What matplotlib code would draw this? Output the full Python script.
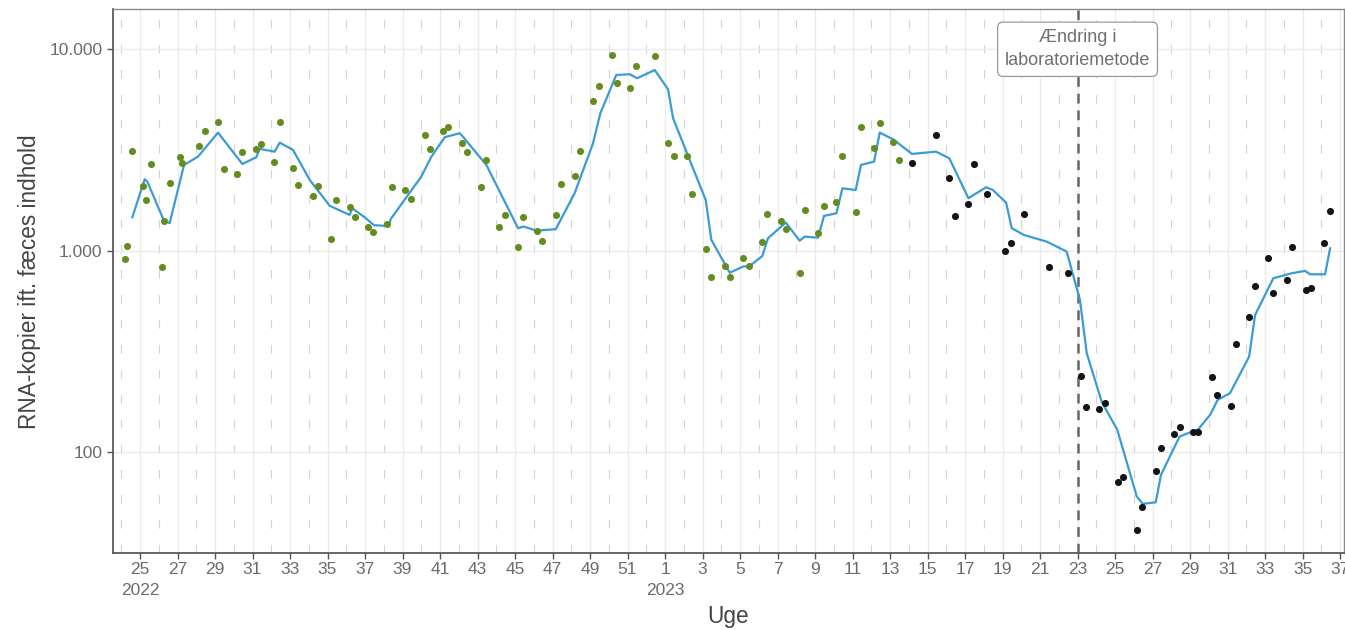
import numpy as np
import matplotlib.pyplot as plt
from matplotlib.ticker import FixedLocator, FixedFormatter, NullLocator

plt.rcParams['font.family'] = ['Liberation Sans', 'DejaVu Sans']
plt.rcParams['lines.scale_dashes'] = False

# x = uger efter uge 25 2022 (uge 1 2023 = 28)
green_t = [-0.82, -0.69, -0.41, 0.16, 0.30, 0.60, 1.17, 1.28, 1.60, 2.15, 2.26,
           3.15, 3.45, 4.16, 4.48, 5.16, 5.46, 6.17, 6.47, 7.16, 7.47, 8.18,
           8.44, 9.20, 9.47, 10.20, 10.44, 11.18, 11.45, 12.16, 12.44, 13.17,
           13.44, 14.15, 14.45, 15.18, 15.45, 16.14, 16.44, 17.17, 17.44, 18.17,
           18.44, 19.16, 19.45, 20.16, 20.40, 21.17, 21.46, 22.17, 22.47, 23.20,
           23.47, 24.16, 24.46, 25.17, 25.46, 26.15, 26.45, 27.47, 28.16, 28.46,
           29.16, 29.46, 30.17, 30.45, 31.18, 31.45, 32.16, 32.46, 33.17, 33.46,
           34.17, 34.45, 35.18, 35.45, 36.16, 36.46, 37.14, 37.44, 38.17, 38.45,
           39.15, 39.45, 40.16, 40.46]
green_v = [906, 1058, 3135, 2094, 1778, 2683, 826, 1409, 2167, 2906, 2716,
           3311, 3945, 4365, 2552, 2410, 3090, 3187, 3388, 2754, 4355, 2582,
           2110, 1857, 2094, 1146, 1790, 1652, 1463, 1310, 1241, 1360,
           2062, 2000, 1804, 3750, 3208, 3945, 4100, 3436, 3100, 2070,
           2818, 1310, 1503, 1038, 1469, 1256, 1119, 1497, 2134, 2347,
           3126, 5538, 6546, 9371, 6823, 6402, 8264, 9264, 3412, 2960,
           2951, 1918, 1018, 737, 838, 737, 916, 841, 1107, 1525,
           1409, 1276, 776, 1592, 1219, 1667, 1750, 2960, 1560, 4125,
           3221, 4317, 3460, 2810]

black_t = [41.17, 42.45, 43.16, 43.47, 44.18, 44.48, 45.16, 46.15, 46.47, 47.16,
           48.48, 49.48, 50.17, 50.44, 51.15, 51.47, 52.14, 52.44, 53.16, 53.44,
           54.17, 54.44, 55.16, 55.45, 56.18, 56.44, 57.16, 57.46, 58.17, 58.45,
           59.16, 59.47, 60.16, 60.44, 61.16, 61.46, 62.17, 62.47, 63.16, 63.47]
black_v = [2716, 3767, 2301, 1489, 1698, 2692, 1911, 1000, 1091, 1520,
           832, 771, 237, 167, 164, 174, 71, 75, 41, 53,
           80, 104, 123, 133, 126, 126, 235, 192, 169, 343,
           470, 670, 916, 618, 712, 1045, 637, 650, 1094, 1574]

line_t = [-0.41, 0.25, 0.39, 1.26, 1.58, 2.35, 3.09, 4.16, 5.46, 6.20, 6.38,
          7.18, 7.45, 8.16, 9.05, 10.12, 11.18, 11.32, 11.98, 12.48, 13.23,
          13.40, 15.00, 15.54, 16.25, 17.05, 17.19, 18.47, 20.16, 20.46, 21.14,
          22.17, 23.18, 24.16, 24.55, 25.40, 26.12, 26.51, 27.45, 28.16, 28.43,
          30.17, 30.47, 31.45, 32.16, 32.52, 33.19, 33.49, 34.44, 35.18, 35.45,
          36.16, 36.48, 37.14, 37.46, 38.17, 38.45, 39.15, 39.45, 40.16, 41.17,
          42.45, 43.16, 44.18, 45.12, 45.48, 46.19, 46.49, 47.15, 48.36, 49.42,
          50.13, 50.49, 51.29, 52.12, 53.16, 53.48, 54.17, 54.45, 55.44, 56.44,
          57.07, 57.47, 58.13, 59.15, 59.47, 60.44, 61.42, 62.13, 62.40, 63.20,
          63.47]
line_v = [1463, 2261, 2199, 1419, 1368, 2663, 2926, 3853, 2692, 2906, 3199,
          3100, 3436, 3162, 2244, 1667, 1503, 1622, 1463, 1336, 1324,
          1447, 2328, 2926, 3656, 3828, 3708, 2663, 1291, 1315, 1256,
          1276, 1926, 3412, 4808, 7453, 7516, 7178, 7889, 6324, 4539,
          1782, 1130, 776, 832, 838, 940, 1151, 1377, 1119, 1172,
          1159, 1486, 1531, 2038, 2000, 2663, 2766, 3853, 3573, 3020,
          3100, 2874, 1820, 2062, 2000, 1730, 1291, 1194, 1107, 988,
          568, 309, 177, 128.5, 59.9, 55.1, 56.1, 76.8, 119, 129.5,
          152.5, 181, 195.5, 297, 479, 728, 771, 792, 762, 762,
          1026]

weeks_2022 = [25, 27, 29, 31, 33, 35, 37, 39, 41, 43, 45, 47, 49, 51]
weeks_2023 = [1, 3, 5, 7, 9, 11, 13, 15, 17, 19, 21, 23, 25, 27, 29, 31, 33, 35, 37]
y_ticks = [100, 1000, 10000]
y_labels = ['100', '1.000', '10.000']
change_week = 23  # 2023

tick_pos = [w - 25 for w in weeks_2022] + [w + 27 for w in weeks_2023]
tick_lab = [str(w) for w in weeks_2022] + [str(w) for w in weeks_2023]
tick_lab[0] = '25\n2022'
tick_lab[len(weeks_2022)] = '1\n2023'
minor_pos = np.arange(-1, 65, 2)

fig = plt.figure(figsize=(13.45, 6.3), dpi=100)
ax = fig.add_axes([113 / 1345, 76.7 / 630, 1231 / 1345, 544 / 630])

ax.set_yscale('log')
ax.set_xlim(-1.44, 64.21)
ax.set_ylim(31.3, 15800)

ax.xaxis.set_major_locator(FixedLocator(tick_pos))
ax.xaxis.set_major_formatter(FixedFormatter(tick_lab))
ax.xaxis.set_minor_locator(FixedLocator(minor_pos))
ax.yaxis.set_major_locator(FixedLocator(y_ticks))
ax.yaxis.set_major_formatter(FixedFormatter(y_labels))
ax.yaxis.set_minor_locator(NullLocator())

ax.grid(which='major', color='#ebebeb', linewidth=1.0, zorder=0)
ax.grid(which='minor', axis='x', color='#d2d2d2', linewidth=0.8,
        linestyle=(0, (6, 12)), zorder=0)
ax.set_axisbelow(True)

ax.axvline(change_week + 27, color='#666666', linewidth=1.8,
           linestyle=(0, (7, 5)), zorder=1)

ax.plot(line_t, line_v, color='#3b9bd6', linewidth=1.6, zorder=2)
ax.scatter(green_t, green_v, s=26, color='#658c1e', linewidths=0, zorder=3)
ax.scatter(black_t, black_v, s=26, color='#141414', linewidths=0, zorder=3)

ax.text(change_week + 27, 10000, 'Ændring i\nlaboratoriemetode', ha='center',
        va='center', fontsize=13, color='#707070', linespacing=1.45, zorder=5,
        bbox=dict(boxstyle='round,pad=0.4,rounding_size=0.3', fc='white',
                  ec='#9a9a9a', lw=0.9))

ax.tick_params(which='major', length=4.5, width=1, color='#555555',
               labelsize=12.5, labelcolor='#6b6b6b')
ax.tick_params(axis='x', which='major', pad=2)
ax.tick_params(axis='y', which='major', pad=3)
ax.tick_params(which='minor', length=0)
for lab in ax.get_xticklabels():
    lab.set_linespacing(1.45)

for side in ['left', 'bottom']:
    ax.spines[side].set_color('#5a5a5a')
    ax.spines[side].set_linewidth(1.3)
for side in ['top', 'right']:
    ax.spines[side].set_color('#8c8c8c')
    ax.spines[side].set_linewidth(1.0)

ax.set_xlabel('Uge', fontsize=16.3, color='#444444', labelpad=5)
ax.set_ylabel('RNA-kopier ift. fæces indhold', fontsize=16.3, color='#444444',
              labelpad=6)

fig.savefig('out.png', dpi=100)
